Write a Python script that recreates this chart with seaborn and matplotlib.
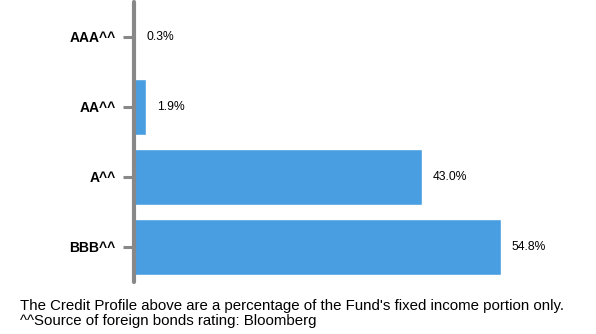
import matplotlib
matplotlib.use("Agg")
import matplotlib.pyplot as plt
import seaborn as sns
import pandas as pd

categories = ["AAA^^", "AA^^", "A^^", "BBB^^"]
values = [0.3, 1.9, 43.0, 54.8]
value_labels = ["0.3%", "1.9%", "43.0%", "54.8%"]
footnote_lines = [
    "The Credit Profile above are a percentage of the Fund's fixed income portion only.",
    "^^Source of foreign bonds rating: Bloomberg",
]

sns.set_theme(style="white")
plt.rcParams["font.family"] = ["Liberation Sans", "DejaVu Sans"]

df = pd.DataFrame({"rating": categories, "pct": values})

fig = plt.figure(figsize=(5.96, 3.34), dpi=100)
ax = fig.add_axes([133.5 / 596, 1 - 282 / 334, 1 - 133.5 / 596, 280 / 334])

sns.barplot(data=df, x="pct", y="rating", orient="h", color="#489ee0",
            saturation=1, width=0.8, ax=ax)

ax.set_xlim(0, (596 - 133.5) / 6.70)
ax.set_ylim(3.5, -0.5)
ax.set_xlabel("")
ax.set_ylabel("")
ax.set_xticks([])

for s in ["top", "right", "bottom"]:
    ax.spines[s].set_visible(False)
ax.spines["left"].set_color("#888888")
ax.spines["left"].set_linewidth(3)
ax.spines["left"].set_capstyle("round")

ax.tick_params(axis="y", which="major", left=True, length=8, width=2.2,
               color="#888888", pad=5, labelsize=10)
for lbl in ax.get_yticklabels():
    lbl.set_fontweight("bold")
    lbl.set_color("black")

for i, (v, t) in enumerate(zip(values, value_labels)):
    ax.annotate(t, xy=(v, i), xytext=(8, 0), textcoords="offset points",
                va="center", ha="left", fontsize=8.7, color="black")

fig.text(20 / 596, 1 - 306 / 334, footnote_lines[0], fontsize=10.8, va="center", ha="left", color="black")
fig.text(20 / 596, 1 - 321 / 334, footnote_lines[1], fontsize=10.8, va="center", ha="left", color="black")

fig.savefig("out.png", dpi=100, facecolor="white")
